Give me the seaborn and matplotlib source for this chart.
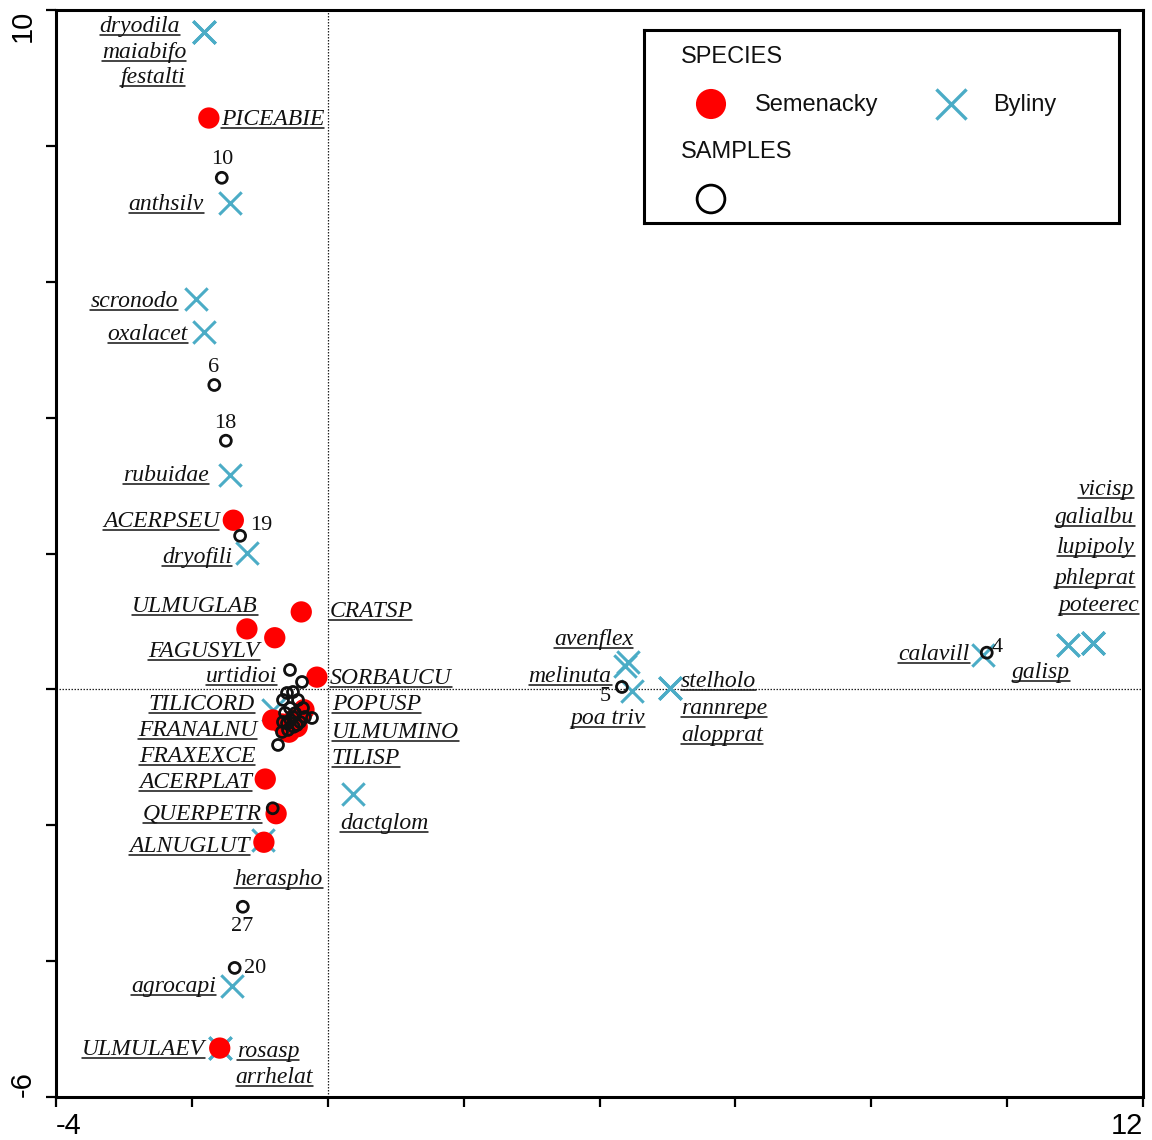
import matplotlib
matplotlib.use("Agg")
import matplotlib.pyplot as plt
import pandas as pd
import seaborn as sns
from matplotlib.lines import Line2D

# --- herbaceous species (Byliny) ---
herb_names = ["dryodila", "maiabifo", "festalti", "anthsilv", "scronodo", "oxalacet",
              "rubuidae", "dryofili", "urtidioi", "dactglom", "heraspho", "agrocapi",
              "rosasp", "arrhelat", "avenflex", "melinuta", "poa triv", "stelholo",
              "rannrepe", "alopprat", "calavill", "galisp", "poteerec", "vicisp",
              "galialbu", "lupipoly", "phleprat"]
herb_x = [-1.82, -1.82, -1.82, -1.44, -1.94, -1.82, -1.44, -1.19, -0.80, 0.37, -0.95,
          -1.41, -1.59, -1.59, 4.42, 4.37, 4.48, 5.04, 5.04, 5.04, 9.64, 10.90, 10.90,
          11.26, 11.26, 11.26, 11.26]
herb_y = [9.68, 9.68, 9.68, 7.16, 5.75, 5.26, 3.16, 2.01, -0.30, -1.54, -2.22, -4.37,
          -5.28, -5.28, 0.40, 0.34, -0.02, 0.02, 0.02, 0.02, 0.51, 0.65, 0.65, 0.68,
          0.68, 0.68, 0.68]

# --- tree seedlings (Semenacky) ---
tree_names = ["PICEABIE", "ACERPSEU", "CRATSP", "ULMUGLAB", "FAGUSYLV", "SORBAUCU",
              "TILICORD", "FRANALNU", "FRAXEXCE", "POPUSP", "ULMUMINO", "TILISP",
              "ACERPLAT", "QUERPETR", "ALNUGLUT", "ULMULAEV"]
tree_x = [-1.75, -1.39, -0.39, -1.19, -0.78, -0.16, -0.81, -0.57, -0.67, -0.35, -0.45,
          -0.50, -0.92, -0.76, -0.94, -1.59]
tree_y = [8.41, 2.49, 1.14, 0.89, 0.76, 0.18, -0.45, -0.63, -0.51, -0.30, -0.55, -0.45,
          -1.32, -1.83, -2.25, -5.28]

# --- samples ---
sample_labels = ["10", "6", "18", "19", "27", "20", "5", "4",
                 "", "", "", "", "", "", "", "", "", "", "", "", "", "", "", "", "",
                 "", "", "", "", "", ""]
sample_x = [-1.56, -1.67, -1.50, -1.29, -1.25, -1.37, 4.33, 9.70,
            -0.81, -0.556, -0.379, -0.600, -0.512, -0.659, -0.438, -0.556, -0.364,
            -0.232, -0.629, -0.512, -0.659, -0.409, -0.585, -0.674, -0.732, -0.453,
            -0.335, -0.55, -0.48, -0.60, -0.50]
sample_y = [7.53, 4.48, 3.66, 2.26, -3.20, -4.10, 0.035, 0.54,
            -1.75, 0.286, 0.109, -0.053, -0.038, -0.156, -0.156, -0.274, -0.274,
            -0.421, -0.347, -0.406, -0.480, -0.480, -0.597, -0.627, -0.818, -0.524,
            -0.406, -0.45, -0.35, -0.50, -0.55]

x_ticks = [-4, -2, 0, 2, 4, 6, 8, 10, 12]
x_tick_labels = ["-4", "", "", "", "", "", "", "", "12"]
y_ticks = [-6, -4, -2, 0, 2, 4, 6, 8, 10]
y_tick_labels = ["-6", "", "", "", "", "", "", "", "10"]

# label placement: (dx, dy, ha) in pixels from the marker to the label's visual centre
label_layout = {
    "dryodila": (-24, 7, "right"), "maiabifo": (-18, -19, "right"),
    "festalti": (-19, -44, "right"), "anthsilv": (-26, 0, "right"),
    "scronodo": (-18, -1, "right"), "oxalacet": (-16, -1, "right"),
    "rubuidae": (-21, 1, "right"), "dryofili": (-15, -3, "right"),
    "urtidioi": (4, 35, "right"), "dactglom": (-13, -28, "left"),
    "heraspho": (-29, -38, "left"), "agrocapi": (-16, 1, "right"),
    "rosasp": (17, -2, "left"), "arrhelat": (16, -28, "left"),
    "avenflex": (5, 24, "right"), "melinuta": (-13, -9, "right"),
    "poa triv": (13, -26, "right"), "stelholo": (11, 8, "left"),
    "rannrepe": (11, -19, "left"), "alopprat": (11, -46, "left"),
    "calavill": (-13, 2, "right"), "galisp": (2, -26, "right"),
    "poteerec": (71, 41, "right"), "vicisp": (41, 155, "right"),
    "galialbu": (42, 127, "right"), "lupipoly": (42, 97, "right"),
    "phleprat": (42, 66, "right"),
    "PICEABIE": (12, 0, "left"), "ACERPSEU": (-14, 0, "right"),
    "CRATSP": (28, 2, "left"), "ULMUGLAB": (11, 24, "right"),
    "FAGUSYLV": (-15, -12, "right"), "SORBAUCU": (13, 0, "left"),
    "TILICORD": (-18, 17, "right"), "FRANALNU": (-32, 3, "right"),
    "FRAXEXCE": (-27, -31, "right"), "POPUSP": (28, 7, "left"),
    "ULMUMINO": (35, -4, "left"), "TILISP": (38, -37, "left"),
    "ACERPLAT": (-13, -2, "right"), "QUERPETR": (-14, 1, "right"),
    "ALNUGLUT": (-14, -3, "right"), "ULMULAEV": (-15, 0, "right"),
}
sample_layout = {
    "10": (0, 21, "center"), "6": (-1, 20, "center"), "18": (-1, 20, "center"),
    "19": (10, 13, "left"), "27": (-1, -17, "center"), "20": (9, 2, "left"),
    "5": (-17, -7, "center"), "4": (5, 8, "left"),
}

HERB_COLOR = "#4BACC6"
TREE_COLOR = "#FF0000"
SERIF = ["Liberation Serif", "DejaVu Serif"]
SANS = ["Liberation Sans", "DejaVu Sans"]

sns.set_style("ticks")
plt.rcParams["font.family"] = SANS

herbs = pd.DataFrame({"name": herb_names, "x": herb_x, "y": herb_y})
trees = pd.DataFrame({"name": tree_names, "x": tree_x, "y": tree_y})
samples = pd.DataFrame({"label": sample_labels, "x": sample_x, "y": sample_y})

W, H = 1152, 1140
fig = plt.figure(figsize=(W / 100, H / 100), dpi=100)
ax = fig.add_axes([56 / W, 43 / H, 1087 / W, 1087 / H])

ax.axhline(0, color="#222222", lw=0.9, ls=(0, (1.2, 1.2)), zorder=1)
ax.axvline(0, color="#222222", lw=0.9, ls=(0, (1.2, 1.2)), zorder=1)

sns.scatterplot(data=herbs, x="x", y="y", marker="x", color=HERB_COLOR, s=260,
                linewidth=2.2, ax=ax, legend=False, zorder=3)
sns.scatterplot(data=trees, x="x", y="y", marker="o", color=TREE_COLOR,
                edgecolor="none", s=235, ax=ax, legend=False, zorder=4)
sns.scatterplot(data=samples, x="x", y="y", marker="o", color="black",
                facecolor="none", edgecolor="#111111", s=62, linewidth=2.0,
                ax=ax, legend=False, zorder=5)

ax.set_xlim(-4, 12)
ax.set_ylim(-6, 10)
ax.set_xlabel("")
ax.set_ylabel("")
ax.set_xticks(x_ticks)
ax.set_xticklabels(x_tick_labels)
ax.set_yticks(y_ticks)
ax.set_yticklabels(y_tick_labels, rotation=90)
ax.tick_params(axis="both", direction="out", length=7, width=1.6, labelsize=21,
               colors="black")
ax.tick_params(axis="x", pad=4)
ax.tick_params(axis="y", pad=7)
for spine in ax.spines.values():
    spine.set_linewidth(2.2)
    spine.set_color("black")

xl = ax.get_xticklabels()
xl[0].set_ha("left")
xl[-1].set_ha("right")
yl = ax.get_yticklabels()
yl[0].set_va("bottom")
yl[-1].set_va("top")
for t in yl:
    t.set_ha("right")

# species labels (italic, underlined)
species_texts = []
for df, col in ((herbs, "name"), (trees, "name")):
    for _, row in df.iterrows():
        dx, dy, ha = label_layout[row[col]]
        t = ax.annotate(row[col], xy=(row["x"], row["y"]), xytext=(dx, dy - 7),
                        textcoords="offset pixels", ha=ha, va="baseline",
                        fontsize=17, fontstyle="italic", family=SERIF,
                        color="#111111", annotation_clip=False, zorder=6)
        species_texts.append((t, row["x"], row["y"], dy - 7))

# sample numbers
for _, row in samples.iterrows():
    if row["label"]:
        dx, dy, ha = sample_layout[row["label"]]
        ax.annotate(row["label"], xy=(row["x"], row["y"]), xytext=(dx, dy - 7),
                    textcoords="offset pixels", ha=ha, va="baseline",
                    fontsize=16, family=SERIF, color="#111111",
                    annotation_clip=False, zorder=6)

# underline each species label just below its baseline
fig.canvas.draw()
renderer = fig.canvas.get_renderer()
inv = fig.transFigure.inverted()
for t, x, y, off in species_texts:
    bb = t.get_window_extent(renderer)
    base_y = ax.transData.transform((x, y))[1] + off
    uy = base_y - 3
    p0 = inv.transform((bb.x0, uy))
    p1 = inv.transform((bb.x1, uy))
    fig.add_artist(Line2D([p0[0], p1[0]], [p0[1], p1[1]], color="#111111",
                          lw=1.1, transform=fig.transFigure, zorder=7))

# legend panel
lax = fig.add_axes([644 / W, (H - 223) / H, 475 / W, 193 / H])
lax.set_xlim(0, 475)
lax.set_ylim(193, 0)
lax.set_xticks([])
lax.set_yticks([])
lax.set_facecolor("white")
for spine in lax.spines.values():
    spine.set_linewidth(2.2)
    spine.set_color("black")
lax.scatter([67], [74], s=470, color=TREE_COLOR, edgecolor="none")
lax.scatter([307], [74], s=470, marker="x", color=HERB_COLOR, linewidth=2.4)
lax.scatter([67], [169], s=400, facecolor="none", edgecolor="black", linewidth=2.0)
lax.text(37, 27, "SPECIES", fontsize=17, va="center", ha="left", color="#111111")
lax.text(111, 75, "Semenacky", fontsize=17, va="center", ha="left", color="#111111")
lax.text(349, 75, "Byliny", fontsize=17, va="center", ha="left", color="#111111")
lax.text(37, 122, "SAMPLES", fontsize=17, va="center", ha="left", color="#111111")

fig.savefig("out.png", dpi=100)
